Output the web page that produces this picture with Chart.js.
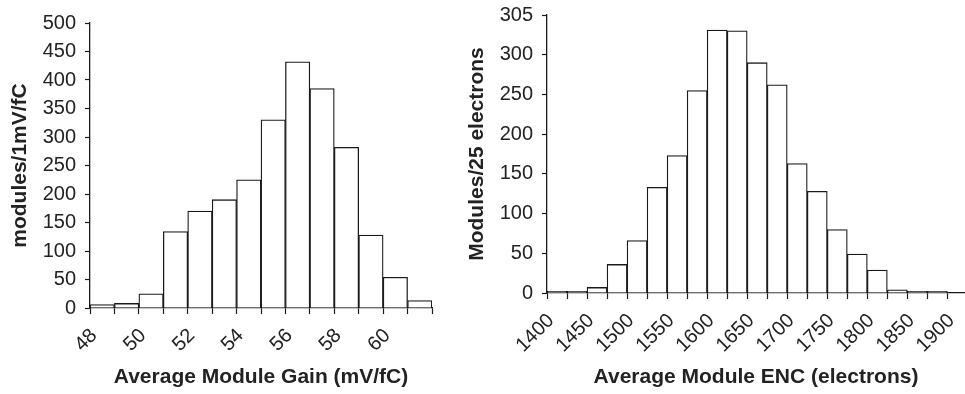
<!DOCTYPE html>
<html>
<head>
<meta charset="utf-8">
<script src="https://cdn.jsdelivr.net/npm/chart.js@4.4.1/dist/chart.umd.min.js"></script>
<style>
  body { margin: 0; background: #fff; }
  #wrap { position: relative; width: 965px; height: 394px; }
  canvas { position: absolute; top: 0; }
  #gainChart { left: 0; }
  #encChart { left: 440px; }
</style>
</head>
<body>
<div id="wrap">
  <canvas id="gainChart" width="440" height="394"></canvas>
  <canvas id="encChart" width="525" height="394"></canvas>
</div>
<script>
// gain histogram, 1 mV/fC bins (lower edges)
const gainBinWidth = 1;
const gainBins = [48, 49, 50, 51, 52, 53, 54, 55, 56, 57, 58, 59, 60, 61];
const gainCounts = [6, 8, 25, 134, 170, 190, 225, 330, 432, 385, 282, 128, 54, 13];
const gainXTicks = [48, 49, 50, 51, 52, 53, 54, 55, 56, 57, 58, 59, 60, 61, 62];
const gainXLabels = ['48', '50', '52', '54', '56', '58', '60'];
const gainYTicks = [0, 50, 100, 150, 200, 250, 300, 350, 400, 450, 500];
const gainYLabels = ['0', '50', '100', '150', '200', '250', '300', '350', '400', '450', '500'];

// ENC histogram, 25 electron bins (lower edges)
const encBinWidth = 25;
const encBins = [1400, 1425, 1450, 1475, 1500, 1525, 1550, 1575, 1600, 1625,
                 1650, 1675, 1700, 1725, 1750, 1775, 1800, 1825, 1850, 1875];
const encCounts = [2, 2, 7, 36, 66, 133, 173, 255, 331, 330,
                   290, 262, 163, 128, 80, 49, 29, 4, 2, 2];
const encXTicks = [1400, 1425, 1450, 1475, 1500, 1525, 1550, 1575, 1600, 1625, 1650,
                   1675, 1700, 1725, 1750, 1775, 1800, 1825, 1850, 1875, 1900];
const encXLabels = ['1400', '1450', '1500', '1550', '1600', '1650', '1700', '1750', '1800', '1850', '1900'];
const encYTicks = [0, 50, 100, 150, 200, 250, 300, 350];
const encYLabels = ['0', '50', '100', '150', '200', '250', '300', '305'];

Chart.defaults.font.family = '"Liberation Sans", Arial, Helvetica, sans-serif';
Chart.defaults.color = '#222';

function histogram(id, cfg) {
  const points = cfg.bins.map((b, i) => ({ x: b + cfg.binWidth / 2, y: cfg.counts[i] }));
  return new Chart(document.getElementById(id), {
    type: 'bar',
    data: {
      datasets: [{
        data: points,
        backgroundColor: '#fff',
        borderColor: '#1a1a1a',
        borderWidth: 1.3,
        barPercentage: 1,
        categoryPercentage: 1
      }]
    },
    options: {
      responsive: false,
      animation: false,
      layout: { padding: cfg.padding },
      plugins: { legend: { display: false }, tooltip: { enabled: false } },
      scales: {
        x: {
          type: 'linear',
          min: cfg.xMin,
          max: cfg.xMax,
          offset: false,
          grid: { offset: false, drawOnChartArea: false, color: '#1a1a1a', tickLength: 6, tickWidth: 1.2 },
          border: { color: '#1a1a1a', width: 1.3 },
          afterBuildTicks: s => { s.ticks = cfg.xTicks.map(v => ({ value: v })); },
          afterFit: s => {
            s.height = cfg.xHeight;
            s.paddingLeft = 0;
            s.paddingRight = 0;
          },
          ticks: {
            autoSkip: false,
            minRotation: 45,
            maxRotation: 45,
            padding: 10,
            labelOffset: 4,
            font: { size: 20 },
            callback: v => cfg.xLabels.includes(String(v)) ? String(v) : ''
          },
          title: {
            display: true,
            text: cfg.xTitle,
            font: { size: 21, weight: 'bold' },
            padding: { top: 0, bottom: 4 }
          }
        },
        y: {
          min: cfg.yTicks[0],
          max: cfg.yTicks[cfg.yTicks.length - 1],
          grid: { drawOnChartArea: false, color: '#1a1a1a', tickLength: 5, tickWidth: 1.2 },
          border: { color: '#1a1a1a', width: 1.3 },
          afterBuildTicks: s => { s.ticks = cfg.yTicks.map(v => ({ value: v })); },
          afterFit: s => {
            s.width = cfg.yWidth;
            s.paddingTop = 0;
            s.paddingBottom = 0;
          },
          ticks: {
            autoSkip: false,
            padding: 9,
            font: { size: 20 },
            callback: (v, i) => cfg.yLabels[i]
          },
          title: {
            display: true,
            text: cfg.yTitle,
            font: { size: 21, weight: 'bold' },
            padding: { top: cfg.yTitlePad, bottom: 0 }
          }
        }
      }
    }
  });
}

histogram('gainChart', {
  bins: gainBins, counts: gainCounts, binWidth: gainBinWidth,
  xMin: 48, xMax: 62, xTicks: gainXTicks, xLabels: gainXLabels,
  yTicks: gainYTicks, yLabels: gainYLabels,
  xTitle: 'Average Module Gain (mV/fC)', yTitle: 'modules/1mV/fC',
  padding: { top: 23, right: 8, bottom: 0, left: 0 },
  yWidth: 90, xHeight: 86, yTitlePad: 8
});

histogram('encChart', {
  bins: encBins, counts: encCounts, binWidth: encBinWidth,
  xMin: 1400, xMax: 1922, xTicks: encXTicks, xLabels: encXLabels,
  yTicks: encYTicks, yLabels: encYLabels,
  xTitle: 'Average Module ENC (electrons)', yTitle: 'Modules/25 electrons',
  padding: { top: 15, right: 0, bottom: 0, left: 0 },
  yWidth: 107, xHeight: 101, yTitlePad: 25
});
</script>
</body>
</html>
